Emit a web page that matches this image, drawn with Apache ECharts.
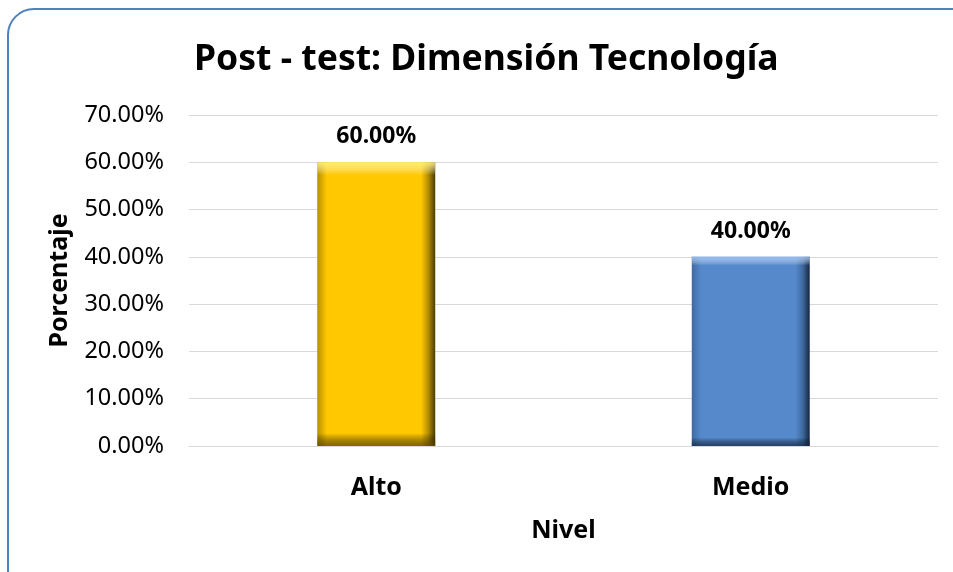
<!DOCTYPE html>
<html>
<head>
<meta charset="utf-8">
<script src="https://cdn.jsdelivr.net/npm/echarts@6/dist/echarts.min.js"></script>
<style>
html,body{margin:0;padding:0;background:#fff;}
#c{width:953px;height:572px;}
</style>
</head>
<body>
<div id="c"></div>
<script>
const titleText = 'Post - test: Dimensión Tecnología';
const categories = ['Alto', 'Medio'];
const values = [0.60, 0.40];
const yTicks = [0, 0.1, 0.2, 0.3, 0.4, 0.5, 0.6, 0.7];
const xAxisName = 'Nivel';
const yAxisName = 'Porcentaje';

const FONT = '"Noto Sans", "Open Sans", sans-serif';

const faceColors = [
  {edgeL: '#b58f00', main: '#ffc800', edgeR: '#4a3b00', hi: 'rgba(255,240,120,0.9)', lo: 'rgba(90,70,0,0.75)'},
  {edgeL: '#3f6aa0', main: '#5589cc', edgeR: '#15263d', hi: 'rgba(150,190,240,0.9)', lo: 'rgba(20,40,70,0.75)'}
];

function sideGradient(c) {
  return new echarts.graphic.LinearGradient(0, 0, 1, 0, [
    {offset: 0, color: c.edgeL},
    {offset: 0.08, color: c.main},
    {offset: 0.88, color: c.main},
    {offset: 0.94, color: c.edgeL},
    {offset: 1, color: c.edgeR}
  ]);
}
function capGradient(c) {
  return new echarts.graphic.LinearGradient(0, 0, 0, 1, [
    {offset: 0, color: c.hi},
    {offset: 0.045, color: 'rgba(255,255,255,0)'},
    {offset: 0.955, color: 'rgba(0,0,0,0)'},
    {offset: 1, color: c.lo}
  ]);
}

const chart = echarts.init(document.getElementById('c'), null, {renderer: 'canvas'});
chart.setOption({
  backgroundColor: '#ffffff',
  animation: false,
  title: {
    text: titleText,
    left: 189,
    top: 37,
    textStyle: {fontFamily: FONT, fontWeight: 'bold', fontSize: 35.5, color: '#000'}
  },
  graphic: [{
    type: 'rect',
    shape: {x: 8, y: 9, width: 990, height: 620, r: 26},
    style: {fill: 'none', stroke: '#4f81bd', lineWidth: 2},
    silent: true,
    z: -1
  }],
  grid: {left: 189, right: 15, top: 115, bottom: 126},
  xAxis: {
    type: 'category',
    data: categories,
    name: xAxisName,
    nameLocation: 'middle',
    nameGap: 72,
    nameTextStyle: {fontFamily: FONT, fontWeight: 'bold', fontSize: 25, color: '#000'},
    axisLine: {show: true, lineStyle: {color: '#d9d9d9', width: 1}},
    axisTick: {show: false},
    axisLabel: {margin: 29, fontFamily: FONT, fontWeight: 'bold', fontSize: 25, color: '#000'}
  },
  yAxis: {
    type: 'value',
    min: 0,
    max: 0.7,
    interval: 0.1,
    name: yAxisName,
    nameLocation: 'middle',
    nameGap: 117,
    nameTextStyle: {fontFamily: FONT, fontWeight: 'bold', fontSize: 25, color: '#000'},
    axisLine: {show: false},
    axisTick: {show: false},
    splitLine: {lineStyle: {color: '#d9d9d9', width: 1}},
    axisLabel: {
      margin: 25,
      fontFamily: FONT,
      fontSize: 23.5,
      color: '#000',
      formatter: v => {
        const t = yTicks.find(x => Math.abs(x - v) < 1e-9);
        return (t !== undefined ? (t * 100).toFixed(2) : (v * 100).toFixed(2)) + '%';
      }
    }
  },
  series: [{
    type: 'bar',
    barWidth: '31.5%',
    data: values.map((v, i) => ({value: v, itemStyle: {color: sideGradient(faceColors[i])}})),
    label: {
      show: true,
      position: 'top',
      distance: 14,
      fontFamily: FONT,
      fontWeight: 'bold',
      fontSize: 23,
      color: '#000',
      formatter: p => (p.value * 100).toFixed(2) + '%'
    },
    z: 2
  }, {
    type: 'bar',
    barWidth: '31.5%',
    barGap: '-100%',
    silent: true,
    data: values.map((v, i) => ({value: v, itemStyle: {color: capGradient(faceColors[i])}})),
    label: {show: false},
    z: 3
  }]
});
</script>
</body>
</html>
